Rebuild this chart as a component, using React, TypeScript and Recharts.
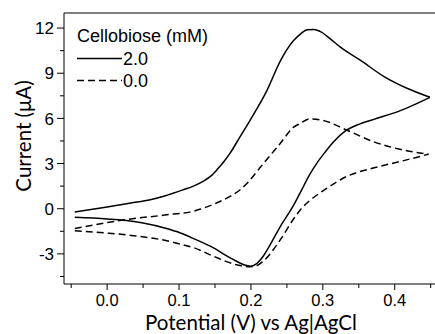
import React from 'react';
import { LineChart, Line, XAxis, YAxis, ReferenceLine, Legend } from 'recharts';

// 2.0 mM cellobiose: anodic (forward) and cathodic (reverse) branches, sorted by potential
const solidForwardV = [-0.045, 0.0, 0.033, 0.06, 0.08, 0.106, 0.12, 0.134, 0.145, 0.153, 0.162, 0.171, 0.185, 0.199, 0.222, 0.241, 0.259, 0.27, 0.278, 0.288, 0.296, 0.31, 0.324, 0.352, 0.384, 0.417, 0.449];
const solidForwardI = [-0.22, 0.12, 0.38, 0.6, 0.85, 1.26, 1.5, 1.83, 2.2, 2.6, 3.1, 3.69, 4.79, 5.89, 7.83, 9.82, 11.15, 11.65, 11.88, 11.9, 11.78, 11.3, 10.75, 9.87, 8.81, 8.0, 7.4];
const solidReverseV = [-0.045, 0.0, 0.024, 0.05, 0.08, 0.102, 0.121, 0.148, 0.165, 0.18, 0.19, 0.2, 0.208, 0.217, 0.229, 0.241, 0.259, 0.27, 0.282, 0.292, 0.303, 0.315, 0.331, 0.35, 0.37, 0.407, 0.449];
const solidReverseI = [-0.57, -0.68, -0.77, -0.95, -1.28, -1.61, -2.0, -2.6, -3.1, -3.49, -3.72, -3.82, -3.65, -3.16, -2.2, -1.17, 0.2, 1.2, 2.3, 3.05, 3.75, 4.45, 5.15, 5.6, 5.92, 6.5, 7.4];

// 0.0 mM cellobiose
const dashedForwardV = [-0.045, 0.0, 0.033, 0.08, 0.121, 0.13, 0.157, 0.171, 0.185, 0.199, 0.213, 0.241, 0.259, 0.268, 0.282, 0.3, 0.333, 0.37, 0.407, 0.447];
const dashedForwardI = [-1.32, -0.92, -0.68, -0.42, -0.15, -0.02, 0.48, 0.82, 1.26, 1.92, 2.75, 4.35, 5.4, 5.65, 5.97, 5.87, 5.23, 4.46, 3.95, 3.62];
const dashedReverseV = [-0.045, 0.0, 0.033, 0.08, 0.102, 0.121, 0.148, 0.18, 0.197, 0.207, 0.217, 0.241, 0.259, 0.27, 0.282, 0.296, 0.306, 0.333, 0.37, 0.407, 0.447];
const dashedReverseI = [-1.46, -1.62, -1.77, -2.1, -2.35, -2.6, -3.16, -3.72, -3.85, -3.8, -3.49, -2.05, -0.7, 0.0, 0.55, 1.05, 1.37, 2.14, 2.7, 3.13, 3.62];

const xTicks = [-0.05, 0.0, 0.05, 0.1, 0.15, 0.2, 0.25, 0.3, 0.35, 0.4, 0.45];
const xMajor = [0.0, 0.1, 0.2, 0.3, 0.4];
const yTicks = [-4.5, -3, -1.5, 0, 1.5, 3, 4.5, 6, 7.5, 9, 10.5, 12];
const yMajor = [-3, 0, 3, 6, 9, 12];

const xTitle = 'Potential (V) vs Ag|AgCl';
const yTitle = 'Current (μA)';
const legendTitle = 'Cellobiose (mM)';
const legendLabels = ['2.0', '0.0'];

const toPoints = (vs: number[], is: number[]) => vs.map((v, k) => ({ v, i: is[k] }));
const solidForward = toPoints(solidForwardV, solidForwardI);
const solidReverse = toPoints(solidReverseV, solidReverseI);
const dashedForward = toPoints(dashedForwardV, dashedForwardI);
const dashedReverse = toPoints(dashedReverseV, dashedReverseI);

const tickFont = "'Liberation Sans', Arial, sans-serif";
const titleFont = "Lato, 'Open Sans', sans-serif";
const DASH = '7 4';

const isMajor = (list: number[], v: number) => list.some((m) => Math.abs(m - v) < 1e-9);

const YTick = (props: any) => {
  const { x, y, payload } = props;
  const major = isMajor(yMajor, payload.value);
  return (
    <g>
      <line x1={x - (major ? 7 : 4)} x2={x} y1={y} y2={y} stroke="#000" strokeWidth={1} />
      {major && (
        <text x={x - 10} y={y} dy="0.36em" textAnchor="end" fontFamily={tickFont} fontSize={17} fill="#000">
          {String(payload.value)}
        </text>
      )}
    </g>
  );
};

const XTick = (props: any) => {
  const { x, y, payload } = props;
  const major = isMajor(xMajor, payload.value);
  return (
    <g>
      <line x1={x} x2={x} y1={y} y2={y + (major ? 6 : 4)} stroke="#000" strokeWidth={1} />
      {major && (
        <text x={x} y={y + 22} textAnchor="middle" fontFamily={tickFont} fontSize={16.5} fill="#000">
          {payload.value.toFixed(1)}
        </text>
      )}
    </g>
  );
};

const LegendContent = () => (
  <svg width={240} height={100} style={{ display: 'block' }}>
    <text x={77} y={42} fontFamily={tickFont} fontSize={18} fill="#000">{legendTitle}</text>
    <line x1={77} x2={122} y1={58.5} y2={58.5} stroke="#000" strokeWidth={1.5} />
    <text x={123} y={64.5} fontFamily={tickFont} fontSize={18} fill="#000">{legendLabels[0]}</text>
    <line x1={77} x2={122} y1={80.5} y2={80.5} stroke="#000" strokeWidth={1.5} strokeDasharray={DASH} />
    <text x={123} y={86.5} fontFamily={tickFont} fontSize={18} fill="#000">{legendLabels[1]}</text>
  </svg>
);

export default function App() {
  return (
    <div style={{ position: 'absolute', left: 0, top: 0, width: 435, height: 334, background: '#fff' }}>
      <LineChart width={435} height={334} margin={{ top: 13, right: 0, bottom: 0, left: 0 }}>
        <XAxis
          dataKey="v"
          type="number"
          domain={[-0.06, 0.456]}
          ticks={xTicks}
          interval={0}
          allowDataOverflow
          height={50}
          tickSize={0}
          tickMargin={0}
          tickLine={false}
          axisLine={{ stroke: '#000', strokeWidth: 1 }}
          tick={<XTick />}
        />
        <YAxis
          type="number"
          domain={[-5, 13]}
          ticks={yTicks}
          interval={0}
          allowDataOverflow
          width={64}
          tickSize={0}
          tickMargin={0}
          tickLine={false}
          axisLine={{ stroke: '#000', strokeWidth: 1 }}
          tick={<YTick />}
        />
        <ReferenceLine y={13} stroke="#000" strokeWidth={1} />
        <Line data={solidForward} dataKey="i" type="monotone" stroke="#000" strokeWidth={1.5} dot={false} isAnimationActive={false} />
        <Line data={solidReverse} dataKey="i" type="monotone" stroke="#000" strokeWidth={1.5} dot={false} isAnimationActive={false} />
        <Line data={dashedForward} dataKey="i" type="monotone" stroke="#000" strokeWidth={1.5} strokeDasharray={DASH} dot={false} isAnimationActive={false} />
        <Line data={dashedReverse} dataKey="i" type="monotone" stroke="#000" strokeWidth={1.5} strokeDasharray={DASH} dot={false} isAnimationActive={false} />
        <text x={251} y={329.5} textAnchor="middle" fontFamily={titleFont} fontSize={20.5} fill="#000">
          {xTitle}
        </text>
        <text x={31} y={136} transform="rotate(-90 31 136)" textAnchor="middle" fontFamily={titleFont} fontSize={20.5} fill="#000">
          {yTitle}
        </text>
        <Legend
          layout="horizontal"
          verticalAlign="middle"
          align="center"
          wrapperStyle={{ position: 'absolute', left: 0, top: 0, width: 240, height: 100 }}
          content={<LegendContent />}
        />
      </LineChart>
    </div>
  );
}
